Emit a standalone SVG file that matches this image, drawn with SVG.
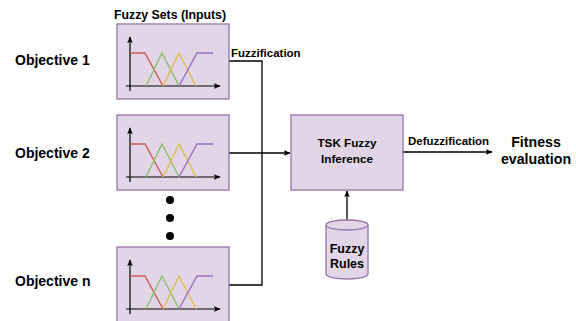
<svg xmlns="http://www.w3.org/2000/svg" xmlns:xlink="http://www.w3.org/1999/xlink" width="576" height="321" viewBox="0 0 576 321">
<style>
text{font-family:"Liberation Sans",Arial,sans-serif;font-weight:bold;fill:#000}
.box{fill:#e1d5e7;stroke:#9673a6;stroke-width:1.3}
.ln{fill:none;stroke:#000;stroke-width:1.3}
.ax{fill:none;stroke:#000;stroke-width:1.2}
.mf{fill:none;stroke-width:1.4}
</style>
<defs>
<marker id="ah" viewBox="0 0 10 10" refX="9" refY="5" markerWidth="7" markerHeight="7" markerUnits="userSpaceOnUse" orient="auto">
<path d="M0,1 L10,5 L0,9 L2.5,5 Z" fill="#000"/>
</marker>
<g id="chart">
<rect class="box" x="0" y="0" width="112" height="75"/>
<path class="ax" d="M13,67 V13" marker-end="url(#ah)"/>
<path class="ax" d="M9,62 H103" marker-end="url(#ah)"/>
<path class="mf" stroke="#cc5c55" d="M13,29 H28 L46,62"/>
<path class="mf" stroke="#8cbf6a" d="M29,62 L45,29 L62,62"/>
<path class="mf" stroke="#e0bd4e" d="M46,62 L62,29 L79,62"/>
<path class="mf" stroke="#9a70bf" d="M62,62 L80,29 H96"/>
</g>
</defs>
<g id="connectors">
<path class="ln" d="M229,61 H262 V285 H229"/>
<path class="ln" d="M229,153 H290" marker-end="url(#ah)"/>
<path class="ln" d="M403,152 H492" marker-end="url(#ah)"/>
<path class="ln" d="M347,220 V191" marker-end="url(#ah)"/>
<text x="231" y="57" font-size="11.5">Fuzzification</text>
<text x="408" y="145" font-size="11.5">Defuzzification</text>
</g>
<g id="obj1">
<text x="15" y="65" font-size="14">Objective 1</text>
<text x="114" y="19" font-size="12.3">Fuzzy Sets (Inputs)</text>
<use href="#chart" x="117" y="24"/>
</g>
<g id="obj2">
<text x="15" y="158" font-size="14">Objective 2</text>
<use href="#chart" x="117" y="115"/>
</g>
<g id="dots">
<circle cx="170" cy="200" r="4"/>
<circle cx="170" cy="218" r="4"/>
<circle cx="170" cy="236" r="4"/>
</g>
<g id="objn">
<text x="15" y="286" font-size="14">Objective n</text>
<use href="#chart" x="117" y="247"/>
</g>
<g id="tsk">
<rect class="box" x="291" y="115" width="112" height="75"/>
<text x="347" y="147" font-size="11.7" text-anchor="middle">TSK Fuzzy</text>
<text x="347" y="163" font-size="11.7" text-anchor="middle">Inference</text>
</g>
<g id="rules">
<path class="box" d="M326,225 V274 A21,5 0 0 0 368,274 V225 A21,5 0 0 0 326,225 Z"/>
<path class="box" style="fill:none" d="M326,225 A21,5 0 0 0 368,225"/>
<text x="347" y="253" font-size="12.5" text-anchor="middle">Fuzzy</text>
<text x="347" y="268" font-size="12.5" text-anchor="middle">Rules</text>
</g>
<g id="fitness">
<text x="536" y="147" font-size="14.2" text-anchor="middle">Fitness</text>
<text x="536" y="164" font-size="14.2" text-anchor="middle">evaluation</text>
</g>
</svg>
